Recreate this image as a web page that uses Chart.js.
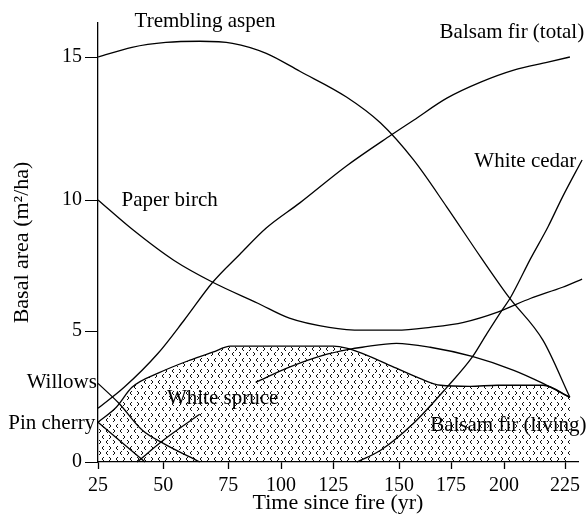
<!DOCTYPE html>
<html>
<head>
<meta charset="utf-8">
<script src="https://cdn.jsdelivr.net/npm/chart.js@4.4.1/dist/chart.umd.min.js"></script>
<style>
  html, body { margin: 0; padding: 0; background: #fff; }
  #wrap { width: 586px; height: 521px; }
</style>
</head>
<body>
<div id="wrap"><canvas id="chart"></canvas></div>
<script>
// tick labels
const xTicks = [25, 50, 75, 100, 125, 150, 175, 200, 225];
const yTicks = [0, 5, 10, 15];

// series, [time since fire (yr), basal area (m2/ha)]
const tremblingAspen = [[25, 15.0], [38, 15.34], [51, 15.51], [64, 15.55], [77, 15.48], [93, 15.13], [109, 14.5], [130, 13.6], [143, 12.69], [157, 11.4], [173, 9.73], [189, 7.82], [202, 6.29], [216, 4.64], [227, 2.47]];
const paperBirch = [[25, 10], [38, 8.89], [54, 7.7], [69, 6.86], [89, 6.06], [104, 5.49], [123, 5.14], [136, 5.03], [149, 5.03], [165, 5.14], [181, 5.33], [197, 5.72], [211, 6.25], [224, 6.67], [232, 6.98]];
const balsamFirTotal = [[25, 2.05], [35, 2.85], [48, 4.15], [58, 5.41], [69, 6.86], [80.5, 7.93], [93, 8.93], [109, 9.89], [130, 11.19], [147, 12.27], [157, 12.79], [173, 13.56], [189, 14.12], [204, 14.54], [218, 14.82], [227, 15.0]];
const whiteCedar = [[134, 0], [143, 0.45], [157, 1.48], [173, 2.85], [185, 4.0], [192, 4.91], [199, 5.79], [202.5, 6.25], [211, 7.78], [218, 8.97], [224, 10.11], [232, 11.4]];
// the gap is where the "White spruce" label covers the line
const whiteSpruce = [[40, 0], [50, 0.83], [64, 1.82], [76, null], [88, 3.04], [104, 3.62], [120, 4.07], [131, 4.3], [136, 4.38], [149, 4.53], [165, 4.38], [185, 4.03], [204, 3.5], [216, 3.0], [227, 2.47]];
const balsamFirLiving = [[25, 1.52], [32, 2.09], [38, 2.85], [48, 3.39], [60, 3.88], [69, 4.19], [76, 4.42], [104, 4.42], [125, 4.42], [130, 4.35], [136, 4.15], [149, 3.58], [160, 3.19], [170, 2.93], [184, 2.89], [197, 2.93], [216, 2.93], [227, 2.47]];
const willows = [[25, 3.0], [33, 2.24], [42, 1.21], [50, 0.71], [64, 0]];
const pinCherry = [[25, 1.52], [43, 0]];

// curve labels: text, year, value, alignment
const labels = [
  ["Trembling aspen", 39, 16.25, "left"],
  ["Balsam fir (total)", 169.5, 15.84, "left"],
  ["White cedar", 186, 11.33, "left"],
  ["Paper birch", 34, 10.0, "left"],
  ["Willows", 24.6, 3.04, "right"],
  ["Pin cherry", 23.9, 1.48, "right"],
  ["White spruce", 51.4, 2.43, "left"],
  ["Balsam fir (living)", 165, 1.4, "left"]
];

// the printed axes are not evenly spaced: pixel offset of each tick from the origin
const warps = {
  x: { values: xTicks, offsets: [0, 65.3, 130.3, 183, 235.3, 301, 353, 406, 467], span: 480 },
  y: { values: yTicks, offsets: [0, 131, 262, 405], span: 439 }
};

function interp(v, from, to) {
  let i = 0;
  while (i < from.length - 2 && v > from[i + 1]) i++;
  const t = (v - from[i]) / (from[i + 1] - from[i]);
  return to[i] + t * (to[i + 1] - to[i]);
}

class WarpScale extends Chart.LinearScale {
  getPixelForValue(value) {
    if (value === null || value === undefined || isNaN(value)) return NaN;
    const w = warps[this.id];
    const off = interp(value, w.values, w.offsets);
    if (this.isHorizontal()) return this.left + off * this.width / w.span;
    return this.bottom - off * this.height / w.span;
  }
  getValueForPixel(pixel) {
    const w = warps[this.id];
    const off = this.isHorizontal()
      ? (pixel - this.left) * w.span / this.width
      : (this.bottom - pixel) * w.span / this.height;
    return interp(off, w.offsets, w.values);
  }
}
WarpScale.id = "warp";
WarpScale.defaults = Chart.LinearScale.defaults;
Chart.register(WarpScale);

const canvas = document.getElementById("chart");

// dotted chevron shading for balsam fir (living)
function makePattern() {
  const c = document.createElement("canvas");
  c.width = 14;
  c.height = 11;
  const g = c.getContext("2d");
  g.fillStyle = "#111";
  function chev(x, y, dir) {
    const a = dir > 0 ? 0 : 1;
    const b = dir > 0 ? 1 : 0;
    g.fillRect(x + a, y, 1, 1);
    g.fillRect(x + b, y + 1, 1, 1);
    g.fillRect(x + b, y + 2, 1, 1);
    g.fillRect(x + a, y + 3, 1, 1);
  }
  chev(1, 0, 1);
  chev(8, 0, -1);
  chev(4, 6, -1);
  chev(11, 6, 1);
  return canvas.getContext("2d").createPattern(c, "repeat");
}

function toPoints(arr) {
  return arr.map((p) => ({ x: p[0], y: p[1] }));
}

function line(data, extra) {
  return Object.assign({
    data: toPoints(data),
    borderColor: "#000",
    borderWidth: 1.3,
    pointRadius: 0,
    fill: false,
    clip: false,
    cubicInterpolationMode: "monotone",
    spanGaps: false
  }, extra || {});
}

const serif = "'Liberation Serif', 'Times New Roman', serif";

const labelPlugin = {
  id: "curveLabels",
  afterDatasetsDraw(chart) {
    const ctx = chart.ctx;
    const xs = chart.scales.x;
    const ys = chart.scales.y;
    ctx.save();
    ctx.font = "21px " + serif;
    ctx.fillStyle = "#000";
    ctx.textBaseline = "middle";
    labels.forEach((l) => {
      ctx.textAlign = l[3];
      ctx.fillText(l[0], xs.getPixelForValue(l[1]), ys.getPixelForValue(l[2]));
    });
    ctx.restore();
  }
};

new Chart(canvas, {
  type: "line",
  data: {
    datasets: [
      line(tremblingAspen),
      line(paperBirch),
      line(balsamFirTotal),
      line(whiteCedar),
      line(whiteSpruce),
      line(willows),
      line(pinCherry),
      line(balsamFirLiving, { fill: "origin", backgroundColor: makePattern() })
    ]
  },
  options: {
    responsive: true,
    maintainAspectRatio: false,
    animation: false,
    layout: { padding: { top: 23, right: 8, left: 0, bottom: 0 } },
    plugins: { legend: { display: false }, tooltip: { enabled: false } },
    scales: {
      x: {
        type: "warp",
        min: 25,
        max: 230.3,
        afterBuildTicks: (s) => { s.ticks = xTicks.map((v) => ({ value: v })); },
        afterFit: (s) => { s.height = 59; s.paddingLeft = 0; s.paddingRight = 0; },
        grid: { drawOnChartArea: false, drawTicks: true, tickLength: 7, color: "#000", tickWidth: 1.3 },
        border: { display: true, color: "#000", width: 1.3 },
        ticks: { color: "#000", padding: 5, maxRotation: 0, autoSkip: false, font: { family: serif, size: 20 }, callback: (v) => String(v) },
        title: { display: true, text: "Time since fire (yr)", color: "#000", font: { family: serif, size: 22 }, padding: { bottom: 5, top: 0 } }
      },
      y: {
        type: "warp",
        min: 0,
        max: 16.19,
        afterBuildTicks: (s) => { s.ticks = yTicks.map((v) => ({ value: v })); },
        afterFit: (s) => { s.width = 98; s.paddingTop = 0; s.paddingBottom = 0; },
        grid: { drawOnChartArea: false, drawTicks: true, tickLength: 13, color: "#000", tickWidth: 1 },
        border: { display: true, color: "#000", width: 1.3 },
        ticks: { color: "#000", padding: 3, autoSkip: false, font: { family: serif, size: 20 }, callback: (v) => String(v) },
        title: { display: true, text: "Basal area (m²/ha)", color: "#000", font: { family: serif, size: 22 }, padding: { top: 9, bottom: 0 } }
      }
    }
  },
  plugins: [labelPlugin]
});
</script>
</body>
</html>
